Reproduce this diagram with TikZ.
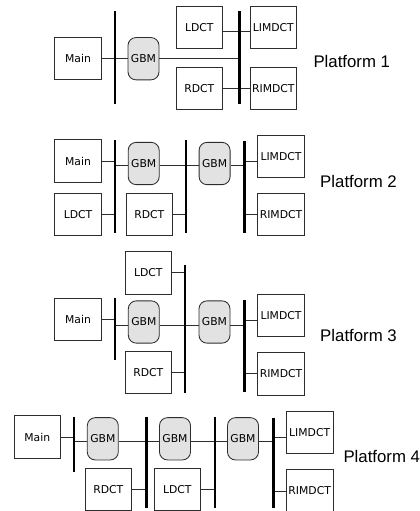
\documentclass[tikz,border=0pt]{standalone}
\usepackage{fontspec}
\setmainfont{DejaVu Sans}
\newfontfamily\platfont{Liberation Sans}
\usetikzlibrary{positioning}
\definecolor{BordeGris}{RGB}{45,45,45}
\definecolor{GbmGris}{RGB}{226,226,226}

\begin{document}
\begin{tikzpicture}[
    x=1pt, y=-1pt,
    box/.style={draw=BordeGris, line width=0.85pt, fill=white, minimum width=46.7pt, minimum height=42.3pt, inner sep=0pt, font=\fontsize{10.8}{13}\selectfont},
    gbm/.style={box, fill=GbmGris, rounded corners=8pt, minimum width=31pt},
    bus/.style={line width=2.7pt, black},
    link/.style={line width=0.95pt, BordeGris},
    plat/.style={anchor=west, font=\platfont\fontsize{16.8}{19}\selectfont}
]
    \useasboundingbox (0,0) rectangle (420,511);

    % Platform 1
    \node[box] (main1) at (78,58.7) {Main};
    \node[gbm] (gbm1) at (143.5,58.7) {GBM};
    \node[box] (ldct1) at (199.3,27.2) {LDCT};
    \node[box, below=18.4pt of ldct1] (rdct1) {RDCT};
    \node[box] (limdct1) at (273.3,27.2) {LIMDCT};
    \node[box, below=18.4pt of limdct1] (rimdct1) {RIMDCT};
    \node[plat] (plat1) at (310,61) {Platform 1};
    \coordinate (b11t) at (115,11);
    \coordinate (b11b) at (115,104);
    \coordinate (b12t) at (239.3,11);
    \coordinate (b12b) at (239.3,104);
    \draw[link] (main1.east) -- (gbm1.west);
    \draw[link] (gbm1.east) -- (gbm1.east -| b12t);
    \draw[link] ([yshift=-4pt]ldct1.east) -- ([yshift=-4pt]limdct1.west);
    \draw[link] (rdct1.east) -- (rimdct1.west);
    \draw[bus] (b11t) -- (b11b);
    \draw[bus] (b12t) -- (b12b);

    % Platform 2
    \node[box] (main2) at (78,161) {Main};
    \node[box] (ldct2) at (78,214.3) {LDCT};
    \node[gbm] (gbm21) at (143.7,163.5) {GBM};
    \node[box] (rdct2) at (149.3,214.3) {RDCT};
    \node[gbm] (gbm22) at (214.6,163.5) {GBM};
    \node[box] (limdct2) at (281,156.2) {LIMDCT};
    \node[box] (rimdct2) at (281,214.2) {RIMDCT};
    \node[plat] (plat2) at (316.7,181.7) {Platform 2};
    \coordinate (t2) at (0,165.5);
    \coordinate (b21t) at (115,140);
    \coordinate (b21b) at (115,232.7);
    \coordinate (b22t) at (186,140);
    \coordinate (b22b) at (186,232.7);
    \coordinate (b23t) at (244.3,140.7);
    \coordinate (b23b) at (244.3,232.7);
    \draw[link] (main2.east) -- (main2.east -| b21t);
    \draw[link] (ldct2.east) -- (ldct2.east -| b21t);
    \draw[link] (rdct2.east) -- (rdct2.east -| b22t);
    \draw[link] (b21t |- t2) -- (gbm21.west |- t2) (gbm21.east |- t2) -- (gbm22.west |- t2) (gbm22.east |- t2) -- (b23t |- t2);
    \draw[link] ([yshift=-5.5pt]limdct2.west) -- ([yshift=-5.5pt]limdct2.west -| b23t);
    \draw[link] (rimdct2.west) -- (rimdct2.west -| b23t);
    \draw[bus] (b21t) -- (b21b);
    \draw[bus] (b22t) -- (b22b);
    \draw[bus] (b23t) -- (b23b);

    % Platform 3
    \node[box] (main3) at (78,319.7) {Main};
    \node[box] (ldct3) at (148.3,272.8) {LDCT};
    \node[gbm] (gbm31) at (143.8,322) {GBM};
    \node[gbm] (gbm32) at (214.5,322) {GBM};
    \node[box] (rdct3) at (148.3,372.5) {RDCT};
    \node[box] (limdct3) at (281,315.5) {LIMDCT};
    \node[box] (rimdct3) at (281,373.8) {RIMDCT};
    \node[plat] (plat3) at (316.7,335) {Platform 3};
    \coordinate (t3) at (0,325);
    \coordinate (b31t) at (115,298.3);
    \coordinate (b31b) at (115,360);
    \coordinate (b32t) at (185,264.5);
    \coordinate (b32b) at (185,393.3);
    \coordinate (b33t) at (244.3,300);
    \coordinate (b33b) at (244.3,392);
    \draw[link] (main3.east) -- (main3.east -| b31t);
    \draw[link] (ldct3.east) -- (ldct3.east -| b32t);
    \draw[link] (rdct3.east) -- (rdct3.east -| b32t);
    \draw[link] (b31t |- t3) -- (gbm31.west |- t3) (gbm31.east |- t3) -- (gbm32.west |- t3) (gbm32.east |- t3) -- (b33t |- t3);
    \draw[link] ([yshift=-4.5pt]limdct3.west) -- ([yshift=-4.5pt]limdct3.west -| b33t);
    \draw[link] (rimdct3.west) -- (rimdct3.west -| b33t);
    \draw[bus] (b31t) -- (b31b);
    \draw[bus] (b32t) -- (b32b);
    \draw[bus] (b33t) -- (b33b);

    % Platform 4
    \node[box] (main4) at (37.3,437) {Main};
    \node[gbm] (gbm41) at (102.8,438.8) {GBM};
    \node[gbm] (gbm42) at (175,438.8) {GBM};
    \node[gbm] (gbm43) at (243,438.8) {GBM};
    \node[box] (rdct4) at (108.3,489.5) {RDCT};
    \node[box] (ldct4) at (177.3,489.5) {LDCT};
    \node[box] (limdct4) at (309.7,432.2) {LIMDCT};
    \node[box] (rimdct4) at (309.7,491) {RIMDCT};
    \node[plat] (plat4) at (340,456) {Platform 4};
    \coordinate (t4) at (0,441.7);
    \coordinate (b41t) at (74,416.7);
    \coordinate (b41b) at (74,471.7);
    \coordinate (b42t) at (146.7,416.7);
    \coordinate (b42b) at (146.7,508);
    \coordinate (b43t) at (215,416.7);
    \coordinate (b43b) at (215,508);
    \coordinate (b44t) at (273.3,417.7);
    \coordinate (b44b) at (273.3,508);
    \draw[link] (main4.east) -- (main4.east -| b41t);
    \draw[link] (b41t |- t4) -- (gbm41.west |- t4) (gbm41.east |- t4) -- (gbm42.west |- t4) (gbm42.east |- t4) -- (gbm43.west |- t4) (gbm43.east |- t4) -- (b44t |- t4);
    \draw[link] (rdct4.east) -- (rdct4.east -| b42t);
    \draw[link] (ldct4.east) -- (ldct4.east -| b43t);
    \draw[link] ([yshift=-5pt]limdct4.west) -- ([yshift=-5pt]limdct4.west -| b44t);
    \draw[link] (rimdct4.west) -- (rimdct4.west -| b44t);
    \draw[bus] (b41t) -- (b41b);
    \draw[bus] (b42t) -- (b42b);
    \draw[bus] (b43t) -- (b43b);
    \draw[bus] (b44t) -- (b44b);
\end{tikzpicture}
\end{document}
